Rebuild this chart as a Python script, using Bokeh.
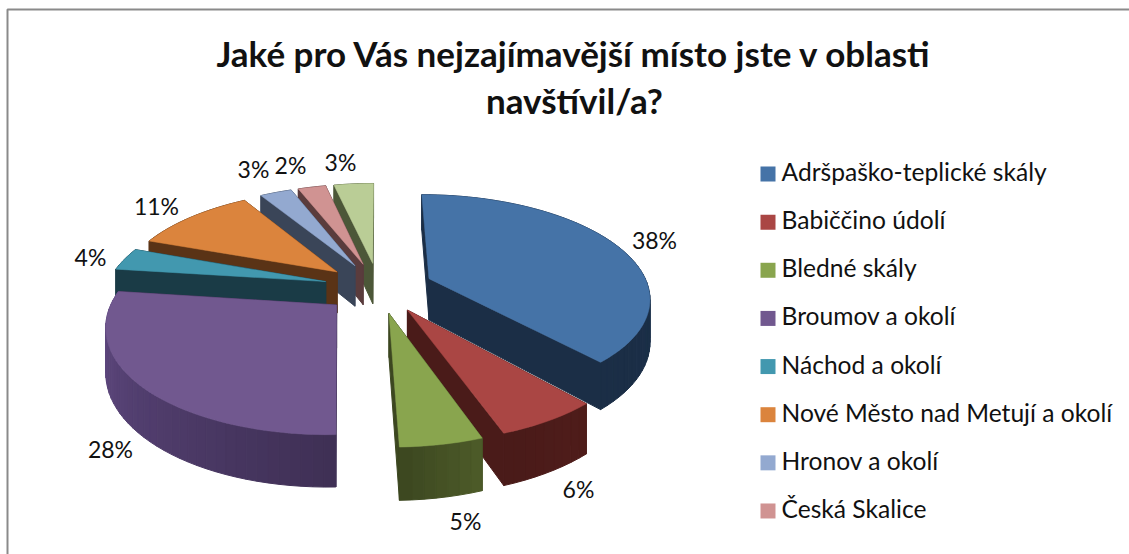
from bokeh.plotting import figure
from bokeh.core.properties import value
from bokeh.embed import file_html
from bokeh.resources import INLINE
from bokeh.models import Range1d
import math

categories = ["Adršpaško-teplické skály", "Babiččino údolí", "Bledné skály", "Broumov a okolí",
              "Náchod a okolí", "Nové Město nad Metují a okolí", "Hronov a okolí", "Česká Skalice"]
values = [38.4, 6.2, 4.9, 27.5, 3.5, 10.7, 2.8, 2.45, 3.49]
percent_labels = ["38%", "6%", "5%", "28%", "4%", "11%", "3%", "2%", "3%"]
top_colors = ["#4573A7", "#AA4644", "#89A54E", "#71588F", "#4298AF", "#DB843D", "#93A9D0", "#D09392", "#BACD96"]
side_colors = ["#1B2E46", "#4A1B19", "#3C4720", "#3F3055", "#1A3B46", "#5A3316", "#3A4558", "#5A3C3D", "#4C5738"]
side_light = [0.12, 0.08, 0.3, 0.6, 0.05, 0.05, 0.05, 0.05, 0.05]
title_lines = ["Jaké pro Vás nejzajímavější místo jste v oblasti", "navštívil/a?"]
label_xy = [(654, 241), (578, 490), (465, 522), (110, 450), (90, 258), (156, 207), (253, 170), (290, 166), (340, 163)]

W, H = 1129, 554
CX, CY, RX, RY, K, D, EXPL = 378.0, 287.0, 219.5, 101.0, 0.17, 42.0, 0.25


def project(x, y, z=0.0):
    s = 1.0 / (1.0 - K * y)
    return CX + x * RX * s, CY + (y * RY + z * D) * s


def shade(col, f):
    r, g, b = [int(col[i:i + 2], 16) for i in (1, 3, 5)]
    return "#%02x%02x%02x" % (min(255, int(r * f)), min(255, int(g * f)), min(255, int(b * f)))


p = figure(width=W, height=H, output_backend="svg", toolbar_location=None,
           x_range=Range1d(0, W), y_range=Range1d(H, 0),
           min_border=0, outline_line_color=None, background_fill_color="white")
p.xaxis.visible = False
p.yaxis.visible = False
p.grid.visible = False

# frame of the chart
p.line([7, 7, W], [H, 9, 9], line_color="#8a8a8a", line_width=2)

total = sum(values)
slices = []
acc = 0.0
for i, v in enumerate(values):
    a0 = acc / total * 2 * math.pi
    acc += v
    a1 = acc / total * 2 * math.pi
    slices.append((i, a0, a1))


def draw_slice(i, a0, a1):
    mid = (a0 + a1) / 2
    ax, ay = EXPL * math.sin(mid), -EXPL * math.cos(mid)
    n = max(4, int((a1 - a0) * 24))
    angs = [a0 + (a1 - a0) * j / n for j in range(n + 1)]
    rim = [(ax + math.sin(t), ay - math.cos(t)) for t in angs]
    quads = [((ax, ay), rim[0], side_colors[i]), ((ax, ay), rim[-1], side_colors[i])]
    for j in range(n):
        u = (j + 0.5) / n
        f = 1 + side_light[i] * (u if i == 3 else 1 - u)
        quads.append((rim[j], rim[j + 1], shade(side_colors[i], f)))
    quads.sort(key=lambda q: q[0][1] + q[1][1])
    for a, b, c in quads:
        pts = [project(*a, 0), project(*b, 0), project(*b, 1), project(*a, 1)]
        p.patch([q[0] for q in pts], [q[1] for q in pts], fill_color=c, line_color=c, line_width=1)
    top = [project(ax, ay)] + [project(x, y) for x, y in rim]
    p.patch([q[0] for q in top], [q[1] for q in top], fill_color=top_colors[i], line_color=top_colors[i], line_width=0.5)


for k in [8, 7, 6, 5, 4, 3, 0, 1, 2]:
    draw_slice(*slices[k])

# percentage labels
p.text([q[0] for q in label_xy], [q[1] - 2 for q in label_xy], text=percent_labels,
       text_font=value("Lato"), text_font_size="23px", text_color="#111111",
       text_align="center", text_baseline="middle")

# title
p.text([574, 574], [52, 99], text=title_lines, text_font=value("Lato"), text_font_style="bold",
       text_font_size="35px", text_color="#111111", text_align="center", text_baseline="middle")

# legend
ly = [173.5 + i * 48.14 for i in range(8)]
p.rect([767.5] * 8, ly, width=15, height=15, fill_color=top_colors[:8], line_color=None)
p.text([781] * 8, [y - 2.5 for y in ly], text=categories, text_font=value("Lato"), text_font_size="24.6px",
       text_color="#111111", text_align="left", text_baseline="middle")

open("out.html", "w").write(file_html(p, INLINE))
